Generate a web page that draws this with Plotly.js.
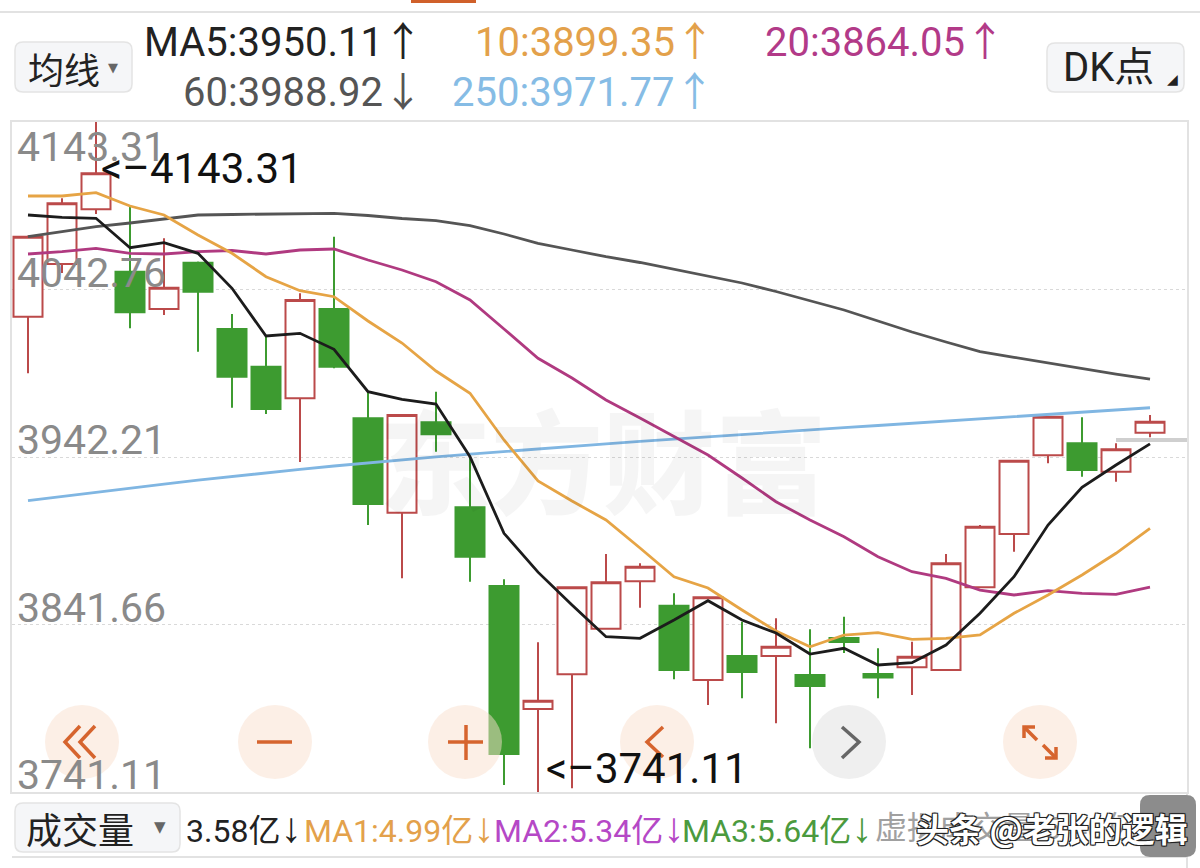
<!DOCTYPE html>
<html><head><meta charset="utf-8">
<script src="https://cdn.plot.ly/plotly-3.0.1.min.js"></script>
<style>html,body{margin:0;padding:0;background:#fff;}#chart{width:1200px;height:868px;}</style>
</head><body><div id="chart"></div>
<script>
// ---- candle data (index 0..33) ----
const opens  = [4026.43,4058.07,4090.90,4053.44,4031.05,4058.85,4019.05,3996.41,3977.44,4031.05,3965.44,3908.77,3963.04,3912.01,3864.77,3790.93,3811.76,3839.13,3867.59,3852.94,3808.34,3822.74,3822.74,3811.34,3833.50,3812.00,3815.96,3814.34,3863.99,3895.98,3943.23,3950.43,3933.38,3956.79];
const highs  = [4075.20,4097.50,4143.31,4092.46,4073.49,4059.50,4028.05,4014.42,4040.48,4074.45,3981.41,3968.00,3981.41,3942.81,3868.79,3830.97,3864.50,3883.97,3878.39,3860.38,3858.50,3843.33,3845.38,3838.77,3846.34,3827.37,3831.33,3883.97,3901.38,3940.50,3967.00,3966.04,3950.43,3967.42];
const lows   = [3992.45,4052.66,4088.10,4019.46,4027.45,4005.42,3971.80,3968.02,3939.20,3995.45,3901.38,3869.39,3945.39,3867.35,3745.30,3741.11,3743.31,3839.00,3851.74,3808.76,3793.33,3797.35,3782.34,3767.33,3824.54,3797.35,3799.33,3814.00,3863.50,3885.36,3938.42,3930.38,3927.38,3954.03];
const closes = [4074.45,4094.50,4112.50,4029.07,4043.84,4041.44,3990.41,3971.02,4036.45,3996.41,3913.99,3967.42,3955.83,3882.36,3763.91,3795.91,3863.99,3866.99,3876.35,3814.34,3857.98,3813.14,3828.33,3804.73,3831.10,3809.80,3822.32,3878.39,3900.36,3939.98,3966.40,3934.40,3946.83,3963.40];

// ---- moving averages ----
const ma5   = [4087.48,4086.10,4085.50,4067.85,4070.87,4064.49,4043.48,4014.84,4016.46,4006.86,3981.41,3976.84,3974.02,3942.39,3896.40,3873.09,3853.36,3834.33,3833.37,3844.35,3855.94,3844.35,3836.55,3823.94,3827.37,3817.34,3818.72,3829.35,3848.38,3870.35,3901.38,3924.02,3937.40,3950.11];
const ma10  = [4098.89,4098.89,4100.87,4092.88,4087.48,4075.47,4064.49,4050.44,4042.04,4038.44,4023.85,4010.64,3993.83,3980.45,3952.41,3927.80,3915.79,3904.39,3887.58,3870.35,3863.57,3850.36,3837.75,3828.33,3835.35,3836.73,3832.77,3833.37,3835.35,3848.38,3859.36,3871.37,3884.40,3899.35];
const ma20  = [4064.07,4065.45,4067.49,4064.49,4064.07,4065.45,4066.17,4064.07,4066.47,4067.07,4060.47,4054.46,4047.44,4036.45,4019.05,4001.46,3989.63,3976.42,3965.62,3954.39,3943.41,3929.60,3915.37,3904.39,3894.36,3882.36,3873.35,3869.39,3862.36,3859.36,3861.94,3860.38,3859.78,3864.05];
const ma60  = [4074.45,4077.28,4080.46,4082.68,4085.08,4087.48,4087.78,4087.96,4088.26,4088.50,4087.18,4085.38,4084.06,4081.06,4076.08,4070.49,4066.47,4062.45,4058.97,4054.88,4051.04,4046.66,4041.56,4036.15,4030.45,4023.85,4017.24,4011.24,4005.42,4002.06,3998.64,3995.33,3992.03,3988.92];
const ma250 = [3915.97,3918.55,3921.08,3923.54,3925.94,3928.28,3930.56,3932.72,3934.82,3936.80,3938.72,3940.53,3942.27,3943.95,3945.57,3947.13,3948.63,3950.13,3951.57,3953.01,3954.39,3955.77,3957.15,3958.47,3959.80,3961.12,3962.44,3963.76,3965.02,3966.28,3967.54,3968.80,3970.30,3971.77];

// ---- axis / label text ----
const yTicks = [4143.31, 4042.76, 3942.21, 3841.66, 3741.11];
const yTickLabels = ['4143.31','4042.76','3942.21','3841.66','3741.11'];
const maxIdx = 2, maxValue = 4143.31, minIdx = 15, minValue = 3741.11;
const lastPriceMark = 3952.4;
const headerRow1 = ['MA5:3950.11↑','10:3899.35↑','20:3864.05↑'];
const headerRow2 = ['60:3988.92↓','250:3971.77↑'];
const volLabels = ['3.58亿','MA1:4.99亿','MA2:5.34亿','MA3:5.64亿','虚拟成交量 5.40亿'];
const volArrows = ['↓','↓','↓','↓',''];

const idx = closes.map((_, i) => i);

// ---- pixel helpers for UI chrome (plot area 12..1187 x 122..792) ----
const PL = 12, PR = 1187, PT = 122, PB = 792;
const px = x => (x - PL) / (PR - PL);
const py = y => (PB - y) / (PB - PT);
function rr(x0, y0, x1, y1, r) {
  const P = (x, y) => px(x).toFixed(5) + ',' + py(y).toFixed(5);
  return 'M' + P(x0 + r, y0) + ' L' + P(x1 - r, y0) + ' Q' + P(x1, y0) + ' ' + P(x1, y0 + r) +
    ' L' + P(x1, y1 - r) + ' Q' + P(x1, y1) + ' ' + P(x1 - r, y1) + ' L' + P(x0 + r, y1) +
    ' Q' + P(x0, y1) + ' ' + P(x0, y1 - r) + ' L' + P(x0, y0 + r) + ' Q' + P(x0, y0) + ' ' + P(x0 + r, y0) + ' Z';
}
function poly(pts) {
  return pts.map((p, i) => (i ? 'L' : 'M') + px(p[0]).toFixed(5) + ',' + py(p[1]).toFixed(5)).join(' ');
}

const FONT = "Roboto, 'Noto Sans CJK SC', sans-serif";
const RED = '#bb4a4a', GREEN = '#3d9b30';
const ORANGE_UI = '#d6642e';

const traces = [
  {type: 'candlestick', x: idx, open: opens, high: highs, low: lows, close: closes,
   increasing: {line: {color: RED, width: 2}, fillcolor: '#ffffff'},
   decreasing: {line: {color: GREEN, width: 2}, fillcolor: GREEN},
   whiskerwidth: 0, hoverinfo: 'skip', showlegend: false},
  {type: 'scatter', mode: 'lines', x: idx, y: ma250, line: {color: '#80b6e2', width: 2.8}, hoverinfo: 'skip', showlegend: false},
  {type: 'scatter', mode: 'lines', x: idx, y: ma60, line: {color: '#555555', width: 2.8}, hoverinfo: 'skip', showlegend: false},
  {type: 'scatter', mode: 'lines', x: idx, y: ma20, line: {color: '#b03a80', width: 2.8}, hoverinfo: 'skip', showlegend: false},
  {type: 'scatter', mode: 'lines', x: idx, y: ma10, line: {color: '#e6a445', width: 2.8}, hoverinfo: 'skip', showlegend: false},
  {type: 'scatter', mode: 'lines', x: idx, y: ma5, line: {color: '#1c1c1c', width: 2.8}, hoverinfo: 'skip', showlegend: false}
];

const annotations = [];
// watermark
annotations.push({xref: 'paper', yref: 'paper', x: px(603), y: py(457), xanchor: 'center', yanchor: 'middle',
  text: '东方财富', showarrow: false, font: {family: "'Noto Sans CJK SC'", size: 112, weight: 900, color: 'rgba(0,0,0,0.04)'}});
// y tick labels inside plot
yTicks.forEach((v, i) => annotations.push({xref: 'paper', yref: 'y', x: px(15), y: v, xanchor: 'left', yanchor: 'middle',
  yshift: i === 0 ? -25 : 17, text: yTickLabels[i], showarrow: false, font: {family: FONT, size: 41, color: '#8a8a8a'}}));
// max / min markers
annotations.push({xref: 'x', yref: 'y', x: maxIdx, y: maxValue, xanchor: 'left', yanchor: 'middle', xshift: 3, yshift: -46,
  text: '<\u2013' + maxValue.toFixed(2), showarrow: false, font: {family: FONT, size: 42, color: '#111'}});
annotations.push({xref: 'x', yref: 'y', x: minIdx, y: minValue, xanchor: 'left', yanchor: 'middle', xshift: 6, yshift: 24,
  text: '<\u2013' + minValue.toFixed(2), showarrow: false, font: {family: FONT, size: 42, color: '#111'}});
// header
const h1x = [425, 717, 1007], h1c = ['#222222', '#e3a14b', '#b23a88'];
headerRow1.forEach((t, i) => annotations.push({xref: 'paper', yref: 'paper', x: px(h1x[i]), y: py(42), xanchor: 'right', yanchor: 'middle',
  text: t, showarrow: false, font: {family: FONT, size: 40, color: h1c[i]}}));
const h2x = [425, 717], h2c = ['#555555', '#86bce5'];
headerRow2.forEach((t, i) => annotations.push({xref: 'paper', yref: 'paper', x: px(h2x[i]), y: py(93), xanchor: 'right', yanchor: 'middle',
  text: t, showarrow: false, font: {family: FONT, size: 40, color: h2c[i]}}));
annotations.push({xref: 'paper', yref: 'paper', x: px(26), y: py(68), xanchor: 'left', yanchor: 'middle', text: '均线', showarrow: false,
  font: {family: "'Noto Sans CJK SC'", size: 36, color: '#222'}});
annotations.push({xref: 'paper', yref: 'paper', x: px(113), y: py(67), xanchor: 'center', yanchor: 'middle', text: '▼', showarrow: false,
  font: {family: "'DejaVu Sans'", size: 13, color: '#666'}});
annotations.push({xref: 'paper', yref: 'paper', x: px(1061), y: py(68), xanchor: 'left', yanchor: 'middle', text: 'DK点', showarrow: false,
  font: {family: FONT, size: 40, color: '#222'}});
annotations.push({xref: 'paper', yref: 'paper', x: px(1172), y: py(79), xanchor: 'center', yanchor: 'middle', text: '◢', showarrow: false,
  font: {family: "'DejaVu Sans'", size: 14, color: '#222'}});
// volume row
annotations.push({xref: 'paper', yref: 'paper', x: px(24), y: py(828), xanchor: 'left', yanchor: 'middle', text: '成交量', showarrow: false,
  font: {family: "'Noto Sans CJK SC'", size: 36, color: '#222'}});
annotations.push({xref: 'paper', yref: 'paper', x: px(160), y: py(827), xanchor: 'center', yanchor: 'middle', text: '▼', showarrow: false,
  font: {family: "'DejaVu Sans'", size: 15, color: '#666'}});
const vx = [184, 302, 492, 680, 873], vc = ['#222222', '#e3a14b', '#b548c6', '#4b9a3e', '#a0a0a0'];
volLabels.forEach((t, i) => annotations.push({xref: 'paper', yref: 'paper', x: px(vx[i]), y: py(828), xanchor: 'left', yanchor: 'middle',
  text: t + (volArrows[i] ? "<span style=\"font-family:'Liberation Sans';font-size:42px\">" + volArrows[i] + '</span>' : ''),
  showarrow: false, font: {family: FONT, size: 32, color: vc[i]}}));
annotations.push({xref: 'paper', yref: 'paper', x: px(1052), y: py(828), xanchor: 'center', yanchor: 'middle', text: '头条 @老张的逻辑', showarrow: false,
  font: {family: "'Noto Sans CJK SC'", size: 33, weight: 700, color: '#ffffff',
         shadow: '1px 1px 0 #222, -1px -1px 0 #222, 1px -1px 0 #222, -1px 1px 0 #222, 0 0 2px #000'}});

// ---- shapes (UI chrome) ----
const shapes = [];
shapes.push({type: 'line', xref: 'paper', yref: 'paper', x0: px(0), x1: px(1200), y0: py(12), y1: py(12), line: {color: '#e2e2e2', width: 2}});
shapes.push({type: 'rect', xref: 'paper', yref: 'paper', x0: px(411), x1: px(476), y0: py(0), y1: py(3), fillcolor: '#d0602a', line: {width: 0}});
shapes.push({type: 'path', xref: 'paper', yref: 'paper', path: rr(15, 42, 132, 92, 8), fillcolor: '#f5f6f8', line: {color: '#e4e4e4', width: 1.5}});
shapes.push({type: 'path', xref: 'paper', yref: 'paper', path: rr(1047, 43, 1184, 92, 8), fillcolor: '#f5f6f8', line: {color: '#e4e4e4', width: 1.5}});
shapes.push({type: 'path', xref: 'paper', yref: 'paper', path: rr(15, 803, 180, 852, 8), fillcolor: '#f5f6f8', line: {color: '#e4e4e4', width: 1.5}});
shapes.push({type: 'line', xref: 'paper', yref: 'paper', x0: px(12), x1: px(1187), y0: py(857), y1: py(857), line: {color: '#e2e2e2', width: 2}});
shapes.push({type: 'line', xref: 'paper', yref: 'paper', x0: px(1187), x1: px(1187), y0: py(792), y1: py(868), line: {color: '#e2e2e2', width: 2}});
shapes.push({type: 'path', xref: 'paper', yref: 'paper', path: rr(1140, 795, 1196, 857, 10), fillcolor: '#8c8c8c', line: {width: 0}});
// last price marker
shapes.push({type: 'line', xref: 'x', yref: 'y', x0: 32, x1: 34.09, y0: lastPriceMark, y1: lastPriceMark, line: {color: '#cfcfcf', width: 4}, layer: 'below'});
// circular buttons
const btnX = [82, 275, 465, 657, 849, 1040], btnY = 742, btnR = 37;
btnX.forEach((cx, i) => shapes.push({type: 'circle', xref: 'paper', yref: 'paper',
  x0: px(cx - btnR), x1: px(cx + btnR), y0: py(btnY + btnR), y1: py(btnY - btnR),
  fillcolor: i === 4 ? 'rgba(225,225,225,0.55)' : 'rgba(250,224,205,0.5)', line: {width: 0}}));
const icon = (pts, c) => shapes.push({type: 'path', xref: 'paper', yref: 'paper', path: poly(pts), line: {color: c, width: 3.5}});
icon([[80, 726], [65, 742], [80, 758]], ORANGE_UI);
icon([[95, 726], [80, 742], [95, 758]], ORANGE_UI);
icon([[257, 742], [292, 742]], ORANGE_UI);
icon([[448, 742], [483, 742]], ORANGE_UI);
icon([[466, 725], [466, 760]], ORANGE_UI);
icon([[663, 727], [647, 742], [663, 757]], ORANGE_UI);
icon([[842, 727], [859, 742], [842, 758]], '#666666');
icon([[1024, 727], [1037, 740]], ORANGE_UI);
icon([[1024, 738], [1024, 727], [1035, 727]], ORANGE_UI);
icon([[1043, 745], [1056, 758]], ORANGE_UI);
icon([[1056, 747], [1056, 758], [1045, 758]], ORANGE_UI);

const layout = {
  width: 1200, height: 868, autosize: false,
  margin: {l: PL, r: 1200 - PR, t: PT, b: 868 - PB, pad: 0},
  paper_bgcolor: '#ffffff', plot_bgcolor: '#ffffff',
  showlegend: false, boxgap: 0.147, boxgroupgap: 0,
  xaxis: {range: [-0.4706, 34.088], showgrid: false, zeroline: false, showticklabels: false, ticks: '',
          showline: true, mirror: true, linecolor: '#e2e2e2', linewidth: 2, rangeslider: {visible: false}, fixedrange: true},
  yaxis: {range: [3741.11, 4143.31], tickvals: yTicks.slice(1, 4), showticklabels: false, ticks: '',
          showgrid: true, gridcolor: '#d9d9d9', griddash: 'dot', gridwidth: 1, zeroline: false,
          showline: true, mirror: true, linecolor: '#e2e2e2', linewidth: 2, fixedrange: true},
  annotations: annotations, shapes: shapes
};

Plotly.newPlot('chart', traces, layout, {staticPlot: true, displayModeBar: false});
</script>
</body></html>
